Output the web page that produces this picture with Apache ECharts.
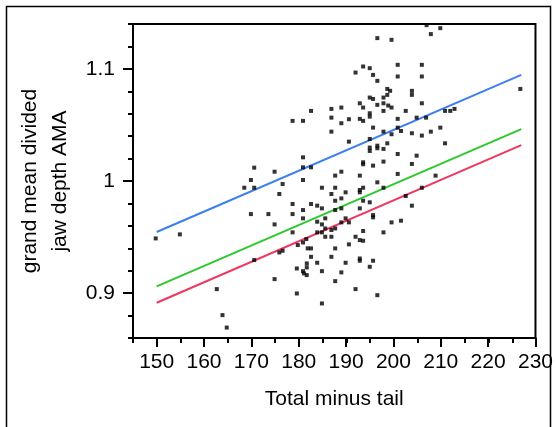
<!DOCTYPE html>
<html><head><meta charset="utf-8">
<script src="https://cdn.jsdelivr.net/npm/echarts@6/dist/echarts.min.js"></script>
<style>html,body{margin:0;padding:0;background:#fff}#c{width:556px;height:427px}</style>
</head><body><div id="c"></div>
<script>
// Scatter data: Total minus tail (x) vs grand mean divided jaw depth AMA (y)
const xVals = [149.8,154.9,162.7,163.9,164.8,168.5,169.9,170.6,170.6,169.9,170.6,173.6,174.9,175.9,176.6,174.9,175.9,176.6,174.9,178.7,
180.9,182.6,180.9,180.9,182.6,180.9,178.7,180.9,178.7,180.9,182.6,183.9,184.9,178.7,180.9,181.6,179.8,181.9,182.6,182.6,
181.7,181.7,179.6,180.9,181.1,181.7,179.6,183.9,184.9,184.9,184.9,183.9,184.9,183.9,184.9,185.6,185.6,185.6,186.9,186.9,
186.9,189.0,189.0,190.6,190.6,192.0,187.7,189.0,187.7,186.9,187.7,189.0,189.9,187.7,189.0,186.9,187.7,186.9,189.0,189.9,
190.6,187.7,186.9,189.9,189.0,187.7,190.6,192.0,192.0,192.9,193.6,195.0,195.7,196.6,196.6,199.6,192.9,193.6,193.6,195.0,
195.7,195.0,195.0,196.6,197.9,197.9,197.9,198.7,199.3,198.7,199.6,198.9,195.7,197.9,199.6,200.9,200.9,200.9,200.9,201.6,
202.6,203.9,203.9,203.9,204.9,206.0,206.0,206.0,206.9,206.0,207.9,207.0,207.9,209.9,209.9,210.9,210.9,212.0,212.9,226.8,
195.0,195.0,195.0,196.6,196.6,197.9,198.7,193.6,193.6,195.7,197.9,200.9,200.9,203.9,204.9,208.9,206.0,192.9,192.9,192.9,
193.6,196.6,197.9,193.6,195.0,192.9,202.6,203.9,195.7,195.7,193.6,192.9,193.6,197.9,199.6,201.6,192.9,192.9,195.7,195.0,196.6];
const yVals = [0.9488,0.9524,0.9036,0.8804,0.8693,0.9940,1.0009,1.0119,0.9940,0.9705,0.9295,0.9705,1.0083,0.9884,0.9973,0.9613,0.9363,0.9378,0.9125,1.0536,
1.0536,1.0625,1.0211,1.0122,1.0122,1.0009,0.9795,0.9741,0.9705,0.9667,0.9795,0.9780,0.9756,0.9542,0.9452,0.9482,0.9429,0.9399,0.9399,0.9324,
0.9265,0.9229,0.9220,0.9196,0.9176,0.9161,0.8997,0.9271,0.9196,0.8908,0.9940,0.9637,0.9613,0.9542,0.9542,0.9667,0.9577,0.9503,1.0643,1.0565,
1.0440,1.0655,1.0515,1.0551,1.0351,1.0967,1.0048,1.0083,0.9940,0.9884,0.9824,0.9845,0.9899,0.9741,0.9756,0.9563,0.9577,0.9503,0.9631,0.9667,
0.9631,0.9399,0.9324,0.9271,0.9185,0.9107,0.9435,0.9503,0.9036,1.0693,1.1021,1.1006,1.0946,1.0893,1.1274,1.1259,1.0554,1.0536,1.0655,1.0744,
1.0732,1.0604,1.0574,1.0679,1.0744,1.0625,1.0693,1.0821,1.0804,1.0768,1.0655,1.0673,1.0476,1.0440,1.0417,1.1036,1.0932,1.0554,1.0476,1.0446,
1.0625,1.0804,1.0768,1.0426,1.0565,1.1036,1.0932,1.0693,1.0565,1.0405,1.0440,1.1390,1.1310,1.1363,1.0476,1.0336,1.0625,1.0625,1.0643,1.0821,
1.0375,1.0298,1.0268,1.0315,1.0292,1.0286,1.0336,1.0167,1.0149,1.0137,1.0173,1.0241,1.0063,1.0152,1.0226,1.0048,0.9940,1.0048,0.9920,0.9899,
0.9940,0.9988,0.9940,0.9824,0.9810,0.9756,0.9866,0.9780,0.9696,0.9676,0.9554,0.9473,0.9467,0.9542,0.9631,0.9646,0.9309,0.9289,0.9289,0.9235,0.8982];

// Fitted lines (endpoints)
const fitX = [150, 227];
const fitBlue = [0.9545, 1.0947];
const fitGreen = [0.906, 1.0462];
const fitRed = [0.8914, 1.032];

// Ticks
const xMajorTicks = [150,160,170,180,190,200,210,220,230];
const yMajorTicks = [0.9, 1, 1.1];

const FONT = 'Liberation Sans';
const pts = xVals.map((x, i) => [x, yVals[i]]);
const mk = (ys) => fitX.map((x, i) => [x, ys[i]]);

const gridRect = {left: 133, right: 20, top: 24, bottom: 89};
const chart = echarts.init(document.getElementById('c'), null, {renderer: 'canvas'});
chart.setOption({
  animation: false,
  backgroundColor: '#fff',
  graphic: [{
    type: 'rect', shape: {x: 6.5, y: 6.5, width: 544, height: 440},
    style: {fill: 'none', stroke: '#000', lineWidth: 1.5}, silent: true, z: 0
  }],
  grid: [
    Object.assign({show: true, borderColor: '#000', borderWidth: 2, backgroundColor: 'transparent'}, gridRect),
    Object.assign({show: false}, gridRect)
  ],
  xAxis: [{
    type: 'value', gridIndex: 0, min: 145, max: 230,
    name: 'Total minus tail', nameLocation: 'middle', nameGap: 51,
    nameTextStyle: {fontFamily: FONT, fontSize: 21, color: '#000'},
    axisLine: {show: true, lineStyle: {color: '#000', width: 2}},
    axisTick: {show: true, customValues: xMajorTicks, length: 9, lineStyle: {color: '#000', width: 2}},
    axisLabel: {customValues: xMajorTicks, fontFamily: FONT, fontSize: 21, color: '#000', margin: 14},
    splitLine: {show: false}
  }, {
    type: 'value', gridIndex: 1, min: 145, max: 230, interval: 5,
    axisLine: {show: false},
    axisTick: {show: true, length: 5, lineStyle: {color: '#000', width: 2}},
    axisLabel: {show: false}, splitLine: {show: false}
  }],
  yAxis: [{
    type: 'value', gridIndex: 0, min: 0.86, max: 1.14,
    name: 'grand mean divided\njaw depth AMA', nameLocation: 'middle', nameGap: 52, nameRotate: 90,
    nameTextStyle: {fontFamily: FONT, fontSize: 21, color: '#000', lineHeight: 30, align: 'center'},
    axisLine: {show: true, lineStyle: {color: '#000', width: 2}},
    axisTick: {show: true, customValues: yMajorTicks, length: 10, lineStyle: {color: '#000', width: 2}},
    axisLabel: {customValues: yMajorTicks, fontFamily: FONT, fontSize: 21, color: '#000', margin: 18},
    splitLine: {show: false}
  }, {
    type: 'value', gridIndex: 1, min: 0.86, max: 1.14, interval: 0.02,
    axisLine: {show: false},
    axisTick: {show: true, length: 5, lineStyle: {color: '#000', width: 2}},
    axisLabel: {show: false}, splitLine: {show: false}
  }],
  series: [
    {type: 'line', xAxisIndex: 0, yAxisIndex: 0, data: mk(fitBlue), symbol: 'none', lineStyle: {color: '#3d7fef', width: 2}, z: 2},
    {type: 'line', xAxisIndex: 0, yAxisIndex: 0, data: mk(fitGreen), symbol: 'none', lineStyle: {color: '#2ec82e', width: 2}, z: 2},
    {type: 'line', xAxisIndex: 0, yAxisIndex: 0, data: mk(fitRed), symbol: 'none', lineStyle: {color: '#ee3860', width: 2}, z: 2},
    {type: 'scatter', xAxisIndex: 0, yAxisIndex: 0, data: pts, symbol: 'rect', symbolSize: 4,
     itemStyle: {color: '#000'}, z: 3}
  ]
});
</script></body></html>
